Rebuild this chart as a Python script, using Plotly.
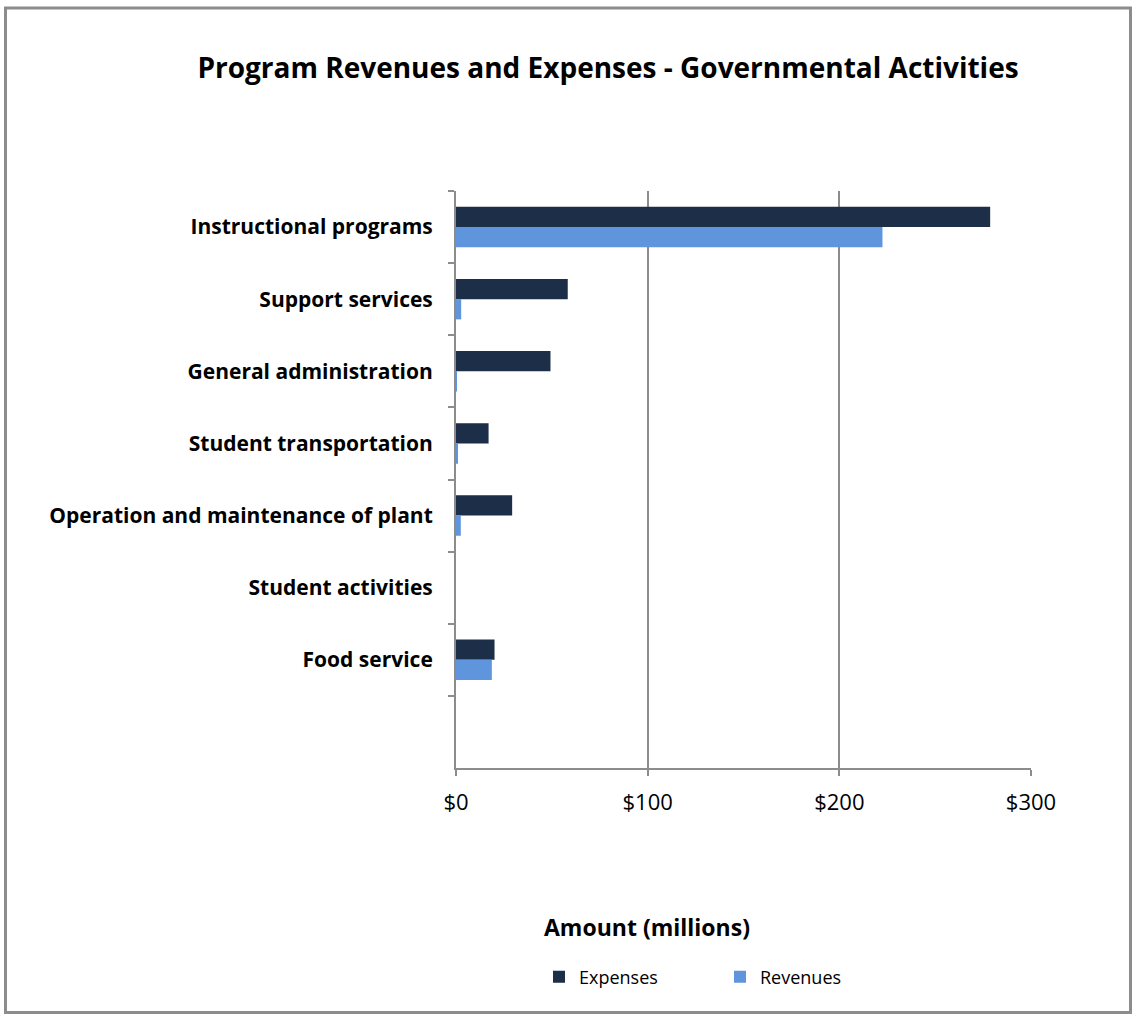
import plotly.graph_objects as go

categories = [
    "Instructional programs",
    "Support services",
    "General administration",
    "Student transportation",
    "Operation and maintenance of plant",
    "Student activities",
    "Food service",
    " ",
]
expenses = [278.7, 58.3, 49.3, 17.0, 29.3, 0.0, 20.1, None]
revenues = [222.5, 2.7, 0.3, 0.9, 2.5, 0.0, 18.7, None]
x_ticks = [0, 100, 200, 300]
x_tick_labels = ["$0", "$100", "$200", "$300"]

FONT = "Open Sans"
W, H = 1132, 1015
L, R, T, B = 456, 101, 191, 247
PW, PH = W - L - R, H - T - B


def px(x):
    return (x - L) / PW


def py(y):
    return (H - B - y) / PH


fig = go.Figure()
fig.add_trace(go.Bar(name="Expenses", y=categories, x=expenses, orientation="h",
                     marker=dict(color="#1c2e48", line=dict(width=0))))
fig.add_trace(go.Bar(name="Revenues", y=categories, x=revenues, orientation="h",
                     marker=dict(color="#5f95dc", line=dict(width=0))))

fig.update_layout(
    width=W, height=H,
    margin=dict(l=L, r=R, t=T, b=B, autoexpand=False),
    paper_bgcolor="white", plot_bgcolor="white",
    barmode="group", bargap=0.44, bargroupgap=0,
    font=dict(family=FONT, color="black"),
    title=dict(text="<b>Program Revenues and Expenses - Governmental Activities</b>",
               x=608 / W, xref="container", xanchor="center",
               y=1 - 68 / H, yref="container", yanchor="middle",
               font=dict(size=28, family=FONT, color="black")),
    showlegend=True,
    legend=dict(orientation="h", x=px(720), xanchor="center", y=py(977), yanchor="middle",
                font=dict(size=18, family=FONT, color="black"),
                entrywidth=136, entrywidthmode="pixels",
                itemwidth=30, traceorder="normal", itemclick=False),
)
fig.update_xaxes(
    range=[0, 300], tickvals=x_ticks, ticktext=x_tick_labels,
    showgrid=True, gridcolor="#8c8c8c", gridwidth=2,
    zeroline=False, showline=True, linecolor="#8c8c8c", linewidth=2,
    ticks="outside", ticklen=6, tickcolor="#8c8c8c", tickwidth=2,
    tickfont=dict(size=22, family=FONT, color="black"), ticklabelstandoff=8,
)
fig.update_yaxes(
    categoryorder="array", categoryarray=categories, range=[7.5, -0.5],
    showgrid=False, zeroline=False, showline=True, linecolor="#8c8c8c", linewidth=2,
    ticks="outside", ticklen=6, tickcolor="#8c8c8c", tickwidth=2, tickson="boundaries",
    tickfont=dict(size=21, family=FONT, color="black"), ticklabelstandoff=17,
    tickprefix="<b>", ticksuffix="</b>",
)
fig.add_annotation(text="<b>Amount (millions)</b>", xref="paper", yref="paper",
                   x=px(647), y=py(927), xanchor="center", yanchor="middle",
                   showarrow=False, font=dict(size=23, family=FONT, color="black"))
fig.add_shape(type="rect", xref="paper", yref="paper",
              x0=px(5.5), x1=px(1130.5), y0=py(1012.5), y1=py(8),
              line=dict(color="#8c8c8c", width=3), layer="below")

fig.write_html("out.html")
